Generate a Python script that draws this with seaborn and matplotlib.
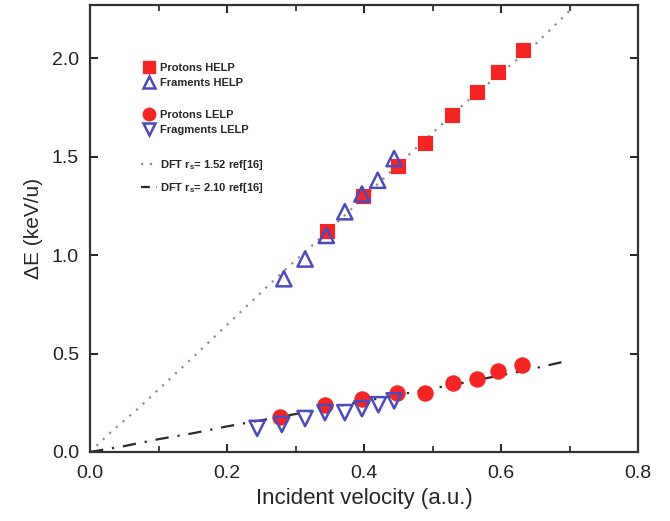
import numpy as np
import pandas as pd
import matplotlib.pyplot as plt
import seaborn as sb
from matplotlib.lines import Line2D
from matplotlib.ticker import MultipleLocator

hp_v = [0.346, 0.399, 0.450, 0.489, 0.528, 0.565, 0.596, 0.632]
hp_e = [1.12, 1.30, 1.45, 1.57, 1.71, 1.83, 1.93, 2.04]

hf_v = [0.283, 0.314, 0.345, 0.372, 0.397, 0.420, 0.444]
hf_e = [0.88, 0.98, 1.10, 1.22, 1.31, 1.38, 1.49]

lp_v = [0.277, 0.343, 0.397, 0.448, 0.489, 0.530, 0.565, 0.596, 0.631]
lp_e = [0.18, 0.24, 0.27, 0.30, 0.30, 0.35, 0.37, 0.41, 0.44]

lf_v = [0.244, 0.280, 0.314, 0.343, 0.372, 0.397, 0.421, 0.444]
lf_e = [0.12, 0.14, 0.17, 0.20, 0.20, 0.22, 0.24, 0.26]

dft1_v = [0.0, 0.03, 0.07, 0.15, 0.28, 0.35, 0.45, 0.55, 0.65, 0.70]
dft1_e = [0.0, 0.10, 0.22, 0.48, 0.91, 1.13, 1.46, 1.78, 2.07, 2.24]

dft2_v = [0.0, 0.05, 0.10, 0.15, 0.20, 0.28, 0.35, 0.45, 0.55, 0.63, 0.70]
dft2_e = [0.0, 0.03, 0.065, 0.095, 0.13, 0.18, 0.225, 0.29, 0.355, 0.41, 0.465]

sb.set_style('ticks')
plt.rcParams['font.family'] = ['Liberation Sans', 'DejaVu Sans']

red = '#f52525'
blue = '#4b4bbb'

fig = plt.figure(figsize=(6.7, 5.21), dpi=100)
ax = fig.add_axes([90/670, 69/521, 548/670, 447/521])

sb.lineplot(x=dft1_v, y=dft1_e, ax=ax, color='#9a8c84', linestyle=(0, (1, 3)), lw=1.6)
sb.lineplot(x=dft2_v, y=dft2_e, ax=ax, color='#2a2a2a', linestyle=(0, (6, 4, 1, 4)), lw=1.6)

sb.scatterplot(x=hp_v, y=hp_e, ax=ax, marker='s', s=110, color=red, edgecolor=red, zorder=3)
sb.scatterplot(x=hf_v, y=hf_e, ax=ax, marker='^', s=120, facecolor='none', edgecolor=blue, linewidth=1.8, zorder=4)
sb.scatterplot(x=lp_v, y=lp_e, ax=ax, marker='o', s=120, color=red, edgecolor=red, zorder=3)
sb.scatterplot(x=lf_v, y=lf_e, ax=ax, marker='v', s=120, facecolor='none', edgecolor=blue, linewidth=1.8, zorder=4)

ax.set_xlim(0, 0.8)
ax.set_ylim(0, 2.27)
ax.xaxis.set_major_locator(MultipleLocator(0.2))
ax.xaxis.set_minor_locator(MultipleLocator(0.1))
ax.yaxis.set_major_locator(MultipleLocator(0.5))
ax.tick_params(which='both', direction='in', top=True, right=True, labelsize=14, colors='#222')
ax.tick_params(which='major', length=6, width=1.4)
ax.tick_params(which='minor', length=4, width=1.2)
ax.tick_params(axis='x', pad=9)
ax.tick_params(axis='y', pad=8)
for sp in ax.spines.values():
    sp.set_linewidth(1.6)
    sp.set_color('#333')

ax.set_xlabel('Incident velocity (a.u.)', fontsize=16, labelpad=5)
ax.set_ylabel('ΔE (keV/u)', fontsize=15, labelpad=6)

lfont = {'size': 8, 'weight': 'bold'}
kw = dict(loc='upper left', frameon=False, prop=lfont, handletextpad=0.3,
          labelspacing=0.45, borderaxespad=0, handlelength=1.4)

h1 = [Line2D([], [], marker='s', ls='', ms=9, color=red),
      Line2D([], [], marker='^', ls='', ms=9, mfc='none', mec=blue, mew=1.8)]
leg1 = ax.legend(h1, ['Protons HELP', 'Framents HELP'], bbox_to_anchor=(0.085, 0.88), **kw)
ax.add_artist(leg1)

h2 = [Line2D([], [], marker='o', ls='', ms=9, color=red),
      Line2D([], [], marker='v', ls='', ms=9, mfc='none', mec=blue, mew=1.8)]
leg2 = ax.legend(h2, ['Protons LELP', 'Fragments LELP'], bbox_to_anchor=(0.085, 0.775), **kw)
ax.add_artist(leg2)

h3 = [Line2D([], [], color='#9a8c84', ls=(0, (1, 3)), lw=1.6),
      Line2D([], [], color='#2a2a2a', ls=(0, (4, 3)), lw=1.6)]
kw3 = dict(kw)
kw3['labelspacing'] = 0.8
ax.legend(h3, [r'DFT r$_\mathregular{s}$= 1.52 ref[16]', r'DFT r$_\mathregular{s}$= 2.10 ref[16]'],
          bbox_to_anchor=(0.085, 0.668), **kw3)

fig.savefig('out.png', dpi=100)
